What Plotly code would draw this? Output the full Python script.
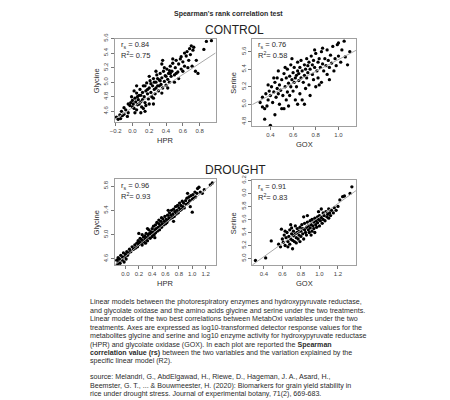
import plotly.graph_objects as go

W, H = 450, 400

# ---- control: HPR vs glycine ----
ctrl_hpr = [
    -0.19, -0.17, -0.15, -0.13, -0.12, -0.10, -0.10, -0.08, -0.06, -0.05,
    -0.05, -0.03, -0.02, -0.01, 0.00, 0.00, 0.01, 0.02, 0.02, 0.03,
    0.04, 0.05, 0.05, 0.05, 0.06, 0.06, 0.07, 0.08, 0.08, 0.09,
    0.10, 0.10, 0.10, 0.11, 0.12, 0.12, 0.13, 0.14, 0.15, 0.15,
    0.15, 0.16, 0.16, 0.17, 0.18, 0.18, 0.19, 0.20, 0.20, 0.20,
    0.21, 0.22, 0.22, 0.23, 0.24, 0.25, 0.25, 0.25, 0.26, 0.26,
    0.27, 0.28, 0.28, 0.28, 0.29, 0.30, 0.30, 0.31, 0.32, 0.32,
    0.33, 0.33, 0.34, 0.35, 0.35, 0.35, 0.36, 0.37, 0.38, 0.38,
    0.39, 0.40, 0.40, 0.41, 0.42, 0.42, 0.43, 0.44, 0.44, 0.45,
    0.45, 0.46, 0.47, 0.48, 0.48, 0.50, 0.50, 0.51, 0.52, 0.52,
    0.54, 0.55, 0.55, 0.57, 0.58, 0.58, 0.60, 0.60, 0.62, 0.62,
    0.64, 0.65, 0.67, 0.68, 0.70, 0.71, 0.72, 0.73, 0.75, 0.76,
    0.78, 0.85, 0.88, 0.94, 0.66, 0.69, -0.14, 0.03, 0.13, 0.36,
]
ctrl_gly = [
    4.52, 4.49, 4.55, 4.60, 4.54, 4.56, 4.65, 4.62, 4.53, 4.58,
    4.70, 4.68, 4.72, 4.80, 4.75, 4.66, 4.70, 4.64, 4.88, 4.78,
    4.73, 4.85, 4.62, 4.95, 4.69, 4.80, 4.76, 4.82, 4.70, 4.90,
    4.73, 4.82, 4.58, 4.66, 4.86, 4.76, 4.95, 4.80, 4.72, 4.95,
    4.60, 4.88, 4.68, 4.99, 4.84, 4.90, 4.77, 4.92, 4.70, 5.08,
    5.02, 4.86, 4.98, 4.80, 4.95, 5.05, 4.78, 4.70, 4.90, 5.00,
    4.84, 5.00, 4.92, 5.15, 5.10, 4.95, 5.05, 4.88, 5.03, 4.95,
    5.12, 5.02, 4.97, 5.06, 4.85, 5.25, 4.92, 5.15, 5.01, 5.20,
    5.09, 4.96, 5.08, 5.18, 5.04, 4.92, 5.12, 5.00, 5.16, 5.22,
    5.12, 5.08, 5.15, 5.26, 5.32, 5.10, 5.00, 5.20, 5.30, 5.12,
    5.14, 5.25, 5.05, 5.32, 5.18, 5.35, 5.28, 5.15, 5.22, 5.40,
    5.36, 5.42, 5.30, 5.46, 5.50, 5.22, 5.44, 5.48, 5.15, 5.30,
    5.12, 5.45, 5.56, 5.57, 5.20, 5.38, 4.50, 4.58, 4.64, 5.30,
]

# ---- control: GOX vs serine ----
ctrl_gox = [
    0.31, 0.33, 0.33, 0.35, 0.35, 0.36, 0.37, 0.38, 0.39, 0.40,
    0.40, 0.41, 0.42, 0.43, 0.44, 0.44, 0.45, 0.46, 0.46, 0.47,
    0.48, 0.48, 0.49, 0.50, 0.50, 0.51, 0.52, 0.52, 0.53, 0.54,
    0.54, 0.55, 0.55, 0.56, 0.57, 0.57, 0.58, 0.58, 0.59, 0.60,
    0.60, 0.61, 0.61, 0.62, 0.62, 0.63, 0.63, 0.64, 0.64, 0.65,
    0.65, 0.66, 0.66, 0.67, 0.67, 0.68, 0.68, 0.69, 0.70, 0.70,
    0.71, 0.71, 0.72, 0.72, 0.73, 0.73, 0.74, 0.74, 0.75, 0.75,
    0.76, 0.77, 0.77, 0.78, 0.78, 0.79, 0.80, 0.80, 0.81, 0.82,
    0.82, 0.83, 0.84, 0.85, 0.85, 0.86, 0.87, 0.88, 0.89, 0.90,
    0.90, 0.91, 0.92, 0.93, 0.94, 0.95, 0.96, 0.97, 0.98, 0.99,
    1.00, 1.00, 1.02, 1.03, 1.05, 1.06, 1.08, 1.10, 0.86, 0.79,
    0.59, 0.53, 0.47, 0.43, 0.38, 0.56, 0.64, 0.70, 0.83, 0.92,
]
ctrl_ser = [
    5.02, 4.97, 5.08, 4.83, 4.95, 5.12, 4.98, 5.05, 5.15, 4.76,
    5.10, 5.20, 5.02, 5.14, 4.88, 5.25, 5.08, 5.18, 5.30, 5.12,
    5.22, 5.00, 5.16, 4.95, 5.28, 5.10, 5.35, 4.95, 5.20, 5.05,
    5.30, 5.14, 5.40, 5.24, 5.10, 5.32, 5.20, 5.45, 5.28, 5.15,
    5.36, 5.25, 5.42, 5.30, 5.05, 5.33, 5.20, 5.38, 5.48, 5.27,
    5.35, 5.12, 5.42, 5.30, 5.50, 5.38, 5.05, 5.25, 5.45, 5.33,
    5.40, 5.18, 5.52, 5.30, 5.44, 5.36, 5.22, 5.48, 5.40, 5.10,
    5.55, 5.34, 5.45, 5.28, 5.50, 5.42, 5.20, 5.58, 5.38, 5.48,
    5.30, 5.52, 5.42, 5.25, 5.60, 5.46, 5.38, 5.52, 5.44, 5.62,
    5.34, 5.50, 5.42, 5.56, 5.47, 5.66, 5.38, 5.52, 5.44, 5.68,
    5.55, 5.70, 5.48, 5.62, 5.72, 5.54, 5.45, 5.60, 5.64, 5.62,
    5.52, 5.42, 5.38, 5.30, 5.22, 4.98, 5.00, 5.00, 5.22, 5.28,
]

# ---- drought: HPR vs glycine ----
dr_hpr = [
    -0.13, -0.12, -0.11, -0.10, -0.09, -0.08, -0.07, -0.05, -0.04, -0.03,
    -0.02, -0.01, 0.00, 0.01, 0.02, 0.03, 0.05, 0.06, 0.08, 0.10,
    0.12, 0.14, 0.15, 0.17, 0.18, 0.19, 0.20, 0.20, 0.21, 0.22,
    0.23, 0.24, 0.25, 0.25, 0.26, 0.27, 0.28, 0.29, 0.30, 0.30,
    0.31, 0.32, 0.33, 0.34, 0.35, 0.35, 0.36, 0.37, 0.38, 0.39,
    0.40, 0.40, 0.41, 0.42, 0.43, 0.44, 0.45, 0.45, 0.46, 0.47,
    0.48, 0.49, 0.50, 0.50, 0.51, 0.52, 0.53, 0.54, 0.55, 0.56,
    0.57, 0.58, 0.59, 0.60, 0.61, 0.62, 0.63, 0.64, 0.65, 0.66,
    0.67, 0.68, 0.69, 0.70, 0.71, 0.72, 0.73, 0.74, 0.75, 0.76,
    0.77, 0.78, 0.79, 0.80, 0.81, 0.82, 0.83, 0.84, 0.85, 0.86,
    0.87, 0.88, 0.90, 0.91, 0.92, 0.94, 0.95, 0.96, 0.98, 1.00,
    1.00, 1.01, 1.02, 1.04, 1.05, 1.07, 1.08, 1.10, 1.12, 1.15,
    1.18, 1.30, 1.27, 0.93, 0.97, 0.72, 0.64, 0.54, 0.44, 0.33,
]
dr_gly = [
    4.58, 4.52, 4.62, 4.55, 4.60, 4.53, 4.66, 4.58, 4.63, 4.70,
    4.55, 4.64, 4.68, 4.60, 4.72, 4.66, 4.70, 4.76, 4.72, 4.80,
    4.76, 4.83, 4.78, 4.86, 4.80, 4.90, 4.84, 5.02, 4.88, 4.94,
    4.86, 4.92, 5.00, 4.83, 4.88, 4.96, 4.90, 4.98, 4.93, 4.86,
    5.02, 4.95, 4.90, 5.00, 4.96, 5.08, 5.02, 4.94, 5.05, 5.00,
    5.10, 4.97, 5.04, 5.14, 5.00, 5.08, 5.16, 5.03, 5.10, 5.20,
    5.06, 5.12, 5.18, 5.24, 5.08, 5.15, 5.22, 5.12, 5.18, 5.26,
    5.16, 5.22, 5.30, 5.18, 5.25, 5.20, 5.32, 5.24, 5.28, 5.36,
    5.26, 5.32, 5.40, 5.28, 5.34, 5.42, 5.30, 5.38, 5.46, 5.34,
    5.40, 5.48, 5.36, 5.44, 5.52, 5.40, 5.48, 5.42, 5.55, 5.46,
    5.52, 5.44, 5.56, 5.50, 5.60, 5.52, 5.62, 5.56, 5.64, 5.58,
    5.37, 5.66, 5.60, 5.70, 5.62, 5.68, 5.76, 5.78, 5.70, 5.68,
    5.74, 5.85, 5.82, 5.68, 5.46, 5.22, 5.40, 5.28, 4.95, 5.10,
]

# ---- drought: GOX vs serine ----
dr_gox = [
    0.31, 0.42, 0.48, 0.56, 0.58, 0.59, 0.60, 0.61, 0.62, 0.63,
    0.64, 0.65, 0.66, 0.67, 0.68, 0.68, 0.69, 0.70, 0.70, 0.71,
    0.72, 0.72, 0.73, 0.74, 0.74, 0.75, 0.76, 0.76, 0.77, 0.78,
    0.78, 0.79, 0.80, 0.80, 0.81, 0.82, 0.82, 0.83, 0.84, 0.84,
    0.85, 0.86, 0.86, 0.87, 0.88, 0.88, 0.89, 0.90, 0.90, 0.91,
    0.92, 0.92, 0.93, 0.94, 0.94, 0.95, 0.96, 0.96, 0.97, 0.98,
    0.98, 0.99, 1.00, 1.00, 1.01, 1.02, 1.03, 1.04, 1.04, 1.05,
    1.06, 1.07, 1.08, 1.09, 1.10, 1.10, 1.11, 1.12, 1.13, 1.15,
    1.16, 1.18, 1.20, 1.22, 1.25, 1.27, 1.33, 1.35, 0.66, 0.71,
    0.75, 0.79, 0.83, 0.87, 0.91, 0.95, 0.99, 1.02, 0.63, 0.69,
]
dr_ser = [
    4.97, 5.01, 5.27, 5.22, 5.18, 5.45, 5.30, 5.25, 5.36, 5.20,
    5.32, 5.40, 5.26, 5.34, 5.44, 5.22, 5.30, 5.38, 5.47, 5.28,
    5.35, 5.42, 5.26, 5.38, 5.50, 5.32, 5.40, 5.46, 5.30, 5.42,
    5.36, 5.48, 5.34, 5.42, 5.52, 5.38, 5.46, 5.30, 5.44, 5.54,
    5.40, 5.48, 5.36, 5.56, 5.44, 5.50, 5.40, 5.58, 5.47, 5.52,
    5.42, 5.60, 5.50, 5.56, 5.46, 5.62, 5.52, 5.58, 5.48, 5.64,
    5.55, 5.60, 5.50, 5.66, 5.58, 5.63, 5.54, 5.70, 5.60, 5.66,
    5.58, 5.72, 5.64, 5.68, 5.76, 5.62, 5.70, 5.66, 5.74, 5.70,
    5.78, 5.74, 5.80, 5.90, 5.95, 5.96, 6.00, 6.10, 5.18, 5.15,
    5.24, 5.26, 5.64, 5.66, 5.36, 5.40, 5.72, 5.76, 5.42, 5.52,
]

# intercept, slope of the linear models
fits = [(4.65, 0.76), (4.834, 0.676), (4.644, 0.914), (4.62, 1.02)]
rs_vals = ["0.84", "0.76", "0.96", "0.91"]
r2_vals = ["0.75", "0.58", "0.93", "0.83"]
x_names = ["HPR", "GOX", "HPR", "GOX"]
y_names = ["Glycine", "Serine", "Glycine", "Serine"]

caption = [
    "Linear models between the photorespiratory enzymes and hydroxypyruvate reductase,",
    "and glycolate oxidase and the amino acids glycine and serine under the two treatments.",
    "Linear models of the two best correlations between MetabOxi variables under the two",
    "treatments. Axes are expressed as log10-transformed detector response values for the",
    "metabolites glycine and serine and log10 enzyme activity for hydroxypyruvate reductase",
    "(HPR) and glycolate oxidase (GOX). In each plot are reported the <b>Spearman</b>",
    "<b>correlation value (rs)</b> between the two variables and the variation explained by the",
    "specific linear model (R2).",
]
source = [
    "source: Melandri, G., AbdElgawad, H., Riewe, D., Hageman, J. A., Asard, H.,",
    "Beemster, G. T., ... & Bouwmeester, H. (2020): Biomarkers for grain yield stability in",
    "rice under drought stress. Journal of experimental botany, 71(2), 669-683.",
]

FONT = "Liberation Sans, Arial, sans-serif"
TXT = "#2b2b2b"

def px(x):
    return x / W

def py(y):
    return 1 - y / H

# panel boxes in pixels: left, right, top, bottom
boxes = [(111, 213, 33, 118), (250, 355, 33, 122), (111, 213, 176, 263), (250, 355, 177, 263)]
xranges = [[-0.21, 0.99], [0.24, 1.155], [-0.16, 1.35], [0.275, 1.395]]
yranges = [[4.45, 5.6], [4.75, 5.75], [4.5, 5.91], [4.9, 6.2]]
xdticks = [0.2, 0.2, 0.2, 0.2]
ydticks = [0.2, 0.2, 0.4, 0.2]
data = [(ctrl_hpr, ctrl_gly), (ctrl_gox, ctrl_ser), (dr_hpr, dr_gly), (dr_gox, dr_ser)]

fig = go.Figure()
layout = {}
annots = []

def note(x, y, text, size, xanchor="left", color=TXT, **kw):
    annots.append(dict(x=px(x), y=py(y), xref="paper", yref="paper", showarrow=False,
                       xanchor=xanchor, yanchor="middle", text=text,
                       font=dict(size=size, color=color, family=FONT), **kw))

for i in range(4):
    n = "" if i == 0 else str(i + 1)
    l, r, t, b = boxes[i]
    xs, ys = data[i]
    a, s = fits[i]
    fig.add_trace(go.Scatter(x=xs, y=ys, mode="markers", xaxis="x" + n, yaxis="y" + n,
                             marker=dict(color="black", size=3.3), hoverinfo="skip"))
    lx = xranges[i]
    fig.add_trace(go.Scatter(x=lx, y=[a + s * v for v in lx], mode="lines", xaxis="x" + n, yaxis="y" + n,
                             line=dict(color="#a8a8a8", width=1), hoverinfo="skip"))
    common = dict(showline=True, linecolor="#a0a0a0", linewidth=1, mirror=True, ticks="outside",
                  ticklen=3, tickwidth=0.8, tickcolor="#777", showgrid=False, zeroline=False,
                  tickformat=".1f", tickfont=dict(size=6, color="#444", family=FONT))
    layout["xaxis" + n] = dict(common, domain=[px(l), px(r)], range=xranges[i], anchor="y" + n,
                                dtick=xdticks[i], tick0=0)
    layout["yaxis" + n] = dict(common, domain=[py(b), py(t)], range=yranges[i], anchor="x" + n,
                                dtick=ydticks[i], tick0=0.2, tickangle=-90)
    # correlation labels
    note(l + 4, t + 7, "r<sub>s</sub> = " + rs_vals[i], 7.5)
    note(l + 4, t + 17, "R<sup>2</sup>= " + r2_vals[i], 7.5)
    # axis titles
    note((l + r) / 2, b + 19, x_names[i], 7.5, xanchor="center")
    note(l - 19, (t + b) / 2, y_names[i], 7.5, xanchor="center", textangle=-90)

note(226, 8, "<b>Spearman's rank correlation test</b>", 7, xanchor="center")
note(232, 24, "CONTROL", 12, xanchor="center", color="#222")
note(233, 167, "DROUGHT", 12, xanchor="center", color="#222")

for k, line in enumerate(caption):
    note(84, 300.7 + 8.6 * k, line, 7.1)
for k, line in enumerate(source):
    note(84, 376.7 + 8.8 * k, line, 7.1)

fig.update_layout(width=W, height=H, margin=dict(l=0, r=0, t=0, b=0), showlegend=False,
                  paper_bgcolor="white", plot_bgcolor="white", annotations=annots, **layout)

fig.write_html("out.html", config={"displayModeBar": False},
               post_script="document.body.style.margin='0';")
